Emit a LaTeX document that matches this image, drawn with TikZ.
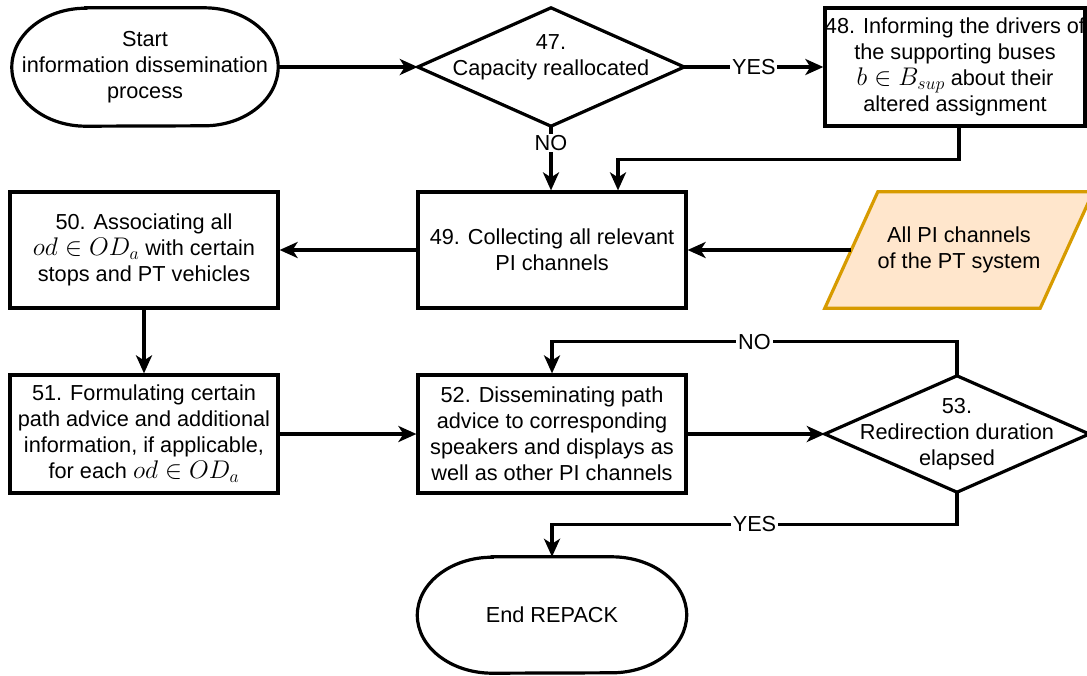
\RequirePackage{fix-cm}
\documentclass[tikz,border=0pt]{standalone}
\usepackage{fontspec}
\setmainfont{Liberation Sans}
\usetikzlibrary{arrows.meta}
\definecolor{pifill}{HTML}{FFE6CC}
\definecolor{pidraw}{HTML}{D79B00}
\newcommand\mth[1]{{\fontsize{25.5}{26}\selectfont$#1$}}
\begin{document}
\begin{tikzpicture}[x=1pt,y=1pt,
  every node/.style={font=\fontsize{21.7}{26}\selectfont, align=center, inner sep=0pt},
  boxnode/.style={draw, line width=3.2pt, minimum width=268pt, minimum height=117pt},
  shapenode/.style={minimum width=#1, minimum height=117pt},
  line/.style={line width=3.2pt},
  arr/.style={line, -{Stealth[length=18pt,width=16pt,inset=5pt]}},
  lbl/.style={fill=white, inner xsep=2pt, inner ysep=1pt}]
\useasboundingbox (0,0) rectangle (1087,-675);
\fill[white] (0,0) rectangle (1087,-675);

% start terminal
\node[shapenode=266pt, minimum height=118pt] (start) at (145,-67) {Start\\information dissemination\\process};
\draw[line] ([xshift=74pt]start.north west) -- ([xshift=-74pt]start.north east)
  arc[start angle=90,end angle=-90,x radius=74pt,y radius=59pt]
  -- ([xshift=74pt]start.south west)
  arc[start angle=270,end angle=90,x radius=74pt,y radius=59pt] -- cycle;

% decision 47
\node[shapenode=266pt, minimum height=118pt,
  label={[yshift=10pt]center:{47.\\Capacity reallocated}}] (d47) at (551,-67) {};
\draw[line] (d47.west) -- (d47.north) -- (d47.east) -- (d47.south) -- cycle;

% box 48
\node[boxnode, minimum width=260pt, minimum height=118pt] (b48) at (955,-67)
  {48. Informing the drivers of\\the supporting buses\\\mth{b\in B_{sup}} about their\\altered assignment};

% box 49
\node[boxnode, minimum height=116pt] (b49) at (552,-250) {49. Collecting all relevant\\PI channels};

% data: PI channels
\node[shapenode=268pt, minimum height=116pt] (pi) at (959,-250) {};
\draw[line, draw=pidraw, fill=pifill] (pi.south west) -- ([xshift=53pt]pi.north west) -- (pi.north east)
  -- ([xshift=-53pt]pi.south east) -- cycle;
\node (pitext) at (pi.center) {All PI channels\\of the PT system};

% box 50
\node[boxnode, minimum height=116pt] (b50) at (144,-250)
  {50. Associating all\\\mth{od\in OD_a} with certain\\stops and PT vehicles};

% box 51
\node[boxnode, minimum height=118pt] (b51) at (144,-434)
  {51. Formulating certain\\path advice and additional\\information, if applicable,\\for each \mth{od\in OD_a}};

% box 52
\node[boxnode, minimum height=118pt] (b52) at (552,-434)
  {52. Disseminating path\\advice to corresponding\\speakers and displays as\\well as other PI channels};

% decision 53
\node[shapenode=264pt, minimum height=116pt] (d53) at (957,-434) {53.\\Redirection duration\\elapsed};
\draw[line] (d53.west) -- (d53.north) -- (d53.east) -- (d53.south) -- cycle;

% end terminal
\node[shapenode=269pt, minimum height=116pt] (end) at (552,-615) {End REPACK};
\draw[line] ([xshift=75pt]end.north west) -- ([xshift=-75pt]end.north east)
  arc[start angle=90,end angle=-90,x radius=75pt,y radius=58pt]
  -- ([xshift=75pt]end.south west)
  arc[start angle=270,end angle=90,x radius=75pt,y radius=58pt] -- cycle;

% connectors
\draw[arr] (start.east) -- (d47.west);
\draw[arr] (d47.east) -- node[lbl] (yes1) {YES} (b48.west);
\draw[arr] (d47.south) -- node[lbl,pos=0.26] (no1) {NO} (d47.south |- b49.north);
\draw[arr] ([xshift=4pt]b48.south) -- ++(0,-32) -| ([xshift=66pt]b49.north);
\draw[arr] ([xshift=26.5pt]pi.west) -- (b49.east);
\draw[arr] (b49.west) -- (b50.east);
\draw[arr] (b50.south) -- (b51.north);
\draw[arr] (b51.east) -- (b52.west);
\draw[arr] (b52.east) -- (d53.west);
\draw[arr] (d53.north) -- ++(0,34) -| node[lbl,pos=0.25] (no2) {NO} (b52.north);
\draw[arr] (d53.south) -- ++(0,-32) -| node[lbl,pos=0.25] (yes2) {YES} (end.north);
\end{tikzpicture}
\end{document}
